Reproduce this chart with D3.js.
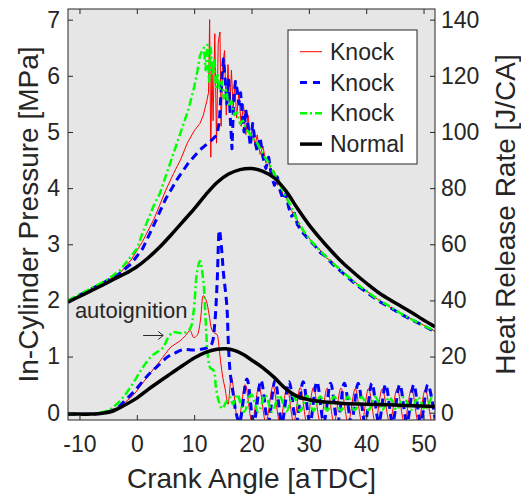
<!DOCTYPE html>
<html>
<head>
<meta charset="utf-8">
<script src="https://cdn.jsdelivr.net/npm/d3@7"></script>
<style>
	body { margin: 0; background: #fff; }
	text { font-family: "Liberation Sans", Arial, sans-serif; fill: #262626; }
	.axis line { stroke: #262626; }
	.axis path { display: none; }
</style>
</head>
<body>
<div id="chart"></div>
<script>
	'use strict';

	// crank angle ticks and axis ticks
	var angleTicks = [-10, 0, 10, 20, 30, 40, 50];
	var pressureTicks = [0, 1, 2, 3, 4, 5, 6, 7];
	var hrrTicks = [0, 20, 40, 60, 80, 100, 120, 140];
	var legendNames = ["Knock", "Knock", "Knock", "Normal"];

	// cylinder pressure [CA, MPa]
	var normalP = [[-12,1.97],[-10,2.07],[-8,2.17],[-6,2.27],[-4,2.38],[-2,2.48],[0,2.6],[2,2.76],[4,2.95],[6,3.17],[8,3.4],[10,3.63],[12,3.88],[14,4.1],[16,4.25],[18,4.33],[20,4.35],[22,4.3],[24,4.18],[26,3.95],[28,3.64],[30,3.35],[32,3.1],[34,2.87],[36,2.66],[38,2.48],[40,2.31],[42,2.15],[44,2.02],[46,1.9],[48,1.78],[50,1.65],[52,1.53]];

	var redP = [[-12,1.99],[-8,2.2],[-5,2.36],[-3,2.48],[-1,2.72],[1,3.05],[3,3.45],[5,3.95],[6.4,4.26],[7.6,4.5],[8.8,4.8],[10,5.02],[11,5.15],[11.6,5.3],[12.2,5.55],[12.5,5.7],[12.7,7.0],[12.9,4.55],[13.1,6.2],[13.3,5.2],[13.6,6.75],[13.9,4.8],[14.2,6.6],[14.5,6.78],[14.7,5.1],[15.0,6.2],[15.3,6.45],[15.6,5.3],[15.9,6.2],[16.2,5.4],[16.5,6.1],[16.8,5.4],[17.1,5.85],[17.4,5.25],[17.8,5.7],[18.2,5.1],[18.6,5.5],[19.0,4.95],[19.4,5.3],[19.8,4.85],[20.2,5.1],[20.6,4.75],[21.0,4.95],[21.5,4.6],[22,4.75],[22.5,4.45],[23,4.5],[23.5,4.25],[24,4.3],[24.5,4.05],[25,4.1],[25.5,3.85],[26,3.85],[26.5,3.7],[27,3.6],[27.5,3.5],[28,3.42],[29,3.22],[30,3.12],[31,2.97],[32,2.9],[33,2.76],[34,2.7],[36,2.5],[38,2.33],[40,2.17],[42,2.02],[44,1.89],[46,1.77],[48,1.66],[50,1.56],[52,1.45]];

	var blueP = [[-12,1.99],[-8,2.2],[-5,2.36],[-3,2.48],[-1,2.65],[1,2.92],[3,3.35],[5,3.8],[7,4.15],[9,4.45],[11,4.68],[13,4.85],[14.0,4.95],[14.4,5.2],[14.8,5.9],[15.1,6.3],[15.4,5.95],[15.7,5.5],[16.0,5.95],[16.3,5.25],[16.6,4.7],[16.9,5.6],[17.2,5.9],[17.5,5.75],[17.8,5.5],[18.1,5.7],[18.4,5.3],[18.7,5.0],[19.0,5.4],[19.4,5.1],[19.8,4.75],[20.2,5.15],[20.6,4.85],[21.0,4.65],[21.5,4.9],[22,4.55],[22.5,4.35],[23,4.55],[23.5,4.2],[24,4.05],[24.5,4.2],[25,3.95],[25.5,3.8],[26,3.9],[26.5,3.65],[27,3.5],[27.5,3.55],[28,3.35],[29,3.2],[30,3.08],[31,2.98],[32,2.85],[33,2.78],[34,2.66],[36,2.48],[38,2.3],[40,2.15],[42,2.0],[44,1.88],[46,1.76],[48,1.65],[50,1.55],[52,1.44]];

	var greenP = [[-12,2.0],[-8,2.21],[-5,2.38],[-3,2.53],[-1.5,2.72],[0,2.92],[1,3.2],[2,3.45],[3,3.7],[4,3.9],[5,4.2],[6,4.5],[7,4.8],[8,5.1],[9,5.4],[10,5.8],[10.6,6.1],[11,6.35],[11.4,6.45],[11.7,6.5],[12.0,6.1],[12.3,6.55],[12.6,5.9],[12.9,6.5],[13.2,6.0],[13.5,6.3],[13.8,5.8],[14.1,6.05],[14.4,5.75],[14.8,5.9],[15.2,5.6],[15.6,5.75],[16.0,5.45],[16.5,5.55],[17,5.3],[17.5,5.35],[18,5.15],[18.5,5.2],[19,5.05],[19.5,5.0],[20,4.92],[20.5,4.85],[21,4.8],[22,4.6],[23,4.45],[24,4.25],[25,4.05],[26,3.85],[27,3.65],[28,3.42],[29,3.25],[30,3.1],[32,2.88],[34,2.68],[36,2.5],[38,2.32],[40,2.17],[42,2.02],[44,1.9],[46,1.77],[48,1.66],[50,1.55],[52,1.46]];

	// heat release rate [CA, J/CA]
	var normalH = [[-12,-0.5],[-10,-0.5],[-8,-0.5],[-6,-0.2],[-4,0.7],[-2,2.8],[0,5.2],[2,8.3],[4,11.2],[6,14],[8,16.8],[10,19.5],[12,21.5],[14,22.6],[15.5,22.8],[17,22.2],[18.5,20.8],[20,18.8],[22,16],[24,12.5],[26,8.5],[28,5.8],[30,4.6],[32,4.0],[34,3.6],[36,3.3],[40,3.0],[44,2.8],[48,2.5],[52,2.2]];

	var redH = [[-12,-0.5],[-9,-0.5],[-6.5,-0.2],[-5,0.5],[-3.5,1.8],[-2,3.8],[-0.5,6.5],[1,10.5],[2.5,14.5],[4,18.3],[5,21],[6,23.5],[7.5,25.5],[8.5,27.5],[9.3,29.3],[9.9,26.8],[10.5,27.5],[11.1,33],[11.6,41.7],[12.1,40],[12.6,35],[13.1,29.5],[13.6,28.3],[14.0,27.8],[14.3,24],[14.6,18.5],[15.0,12.5],[15.4,8.5],[15.9,3],[16.5,12.5],[17.7,-3.5],[18.9,10],[20.1,-3.5],[21.3,9.5],[22.5,-3.5],[23.75,9.5],[24.95,-3.5],[26.2,9],[27.35,-3.5],[28.5,9],[29.65,-3.5],[30.8,9],[32.0,-3.5],[33.2,8.8],[34.4,-3.5],[35.6,8.8],[36.85,-3.5],[38.1,8.6],[39.25,-3.5],[40.4,8.6],[41.6,-3.5],[42.8,8.5],[44.1,-3.5],[45.4,8.5],[46.65,-3.5],[47.9,8.5],[49.1,-3.5],[50.3,8.3],[51.5,-3.5],[52,-1]];

	var blueH = [[-12,-0.5],[-9,-0.5],[-6.5,-0.3],[-5,0.3],[-3.5,1.5],[-2,4.5],[-0.5,7.5],[1.1,11.4],[2.5,14.5],[4.1,17.5],[5.3,19.8],[6.4,21],[8.1,22.5],[10,22.3],[11.6,22.8],[12.5,23.3],[13.1,24.6],[13.6,32],[14.0,46],[14.4,65],[14.8,58],[15.1,50],[15.7,38],[16.0,23],[16.3,14],[16.8,6.8],[17.3,0],[17.9,-3.5],[19.2,12],[20.4,-3.5],[21.65,11.5],[22.9,-3.5],[24.1,11.5],[25.3,-3.5],[26.55,11],[27.8,-3.5],[29.0,11],[30.2,-3.5],[31.4,11],[32.6,-3.5],[33.8,10.5],[35.0,-3.5],[36.2,10.5],[37.4,-3.5],[38.6,10.5],[39.8,-3.5],[41.0,10.5],[42.2,-3.5],[43.4,10],[44.6,-3.5],[45.85,10],[47.1,-3.5],[48.3,10],[49.5,-3.5],[50.75,10],[52,-2]];

	var greenH = [[-12,-0.5],[-9,-0.5],[-6.5,0],[-5,0.8],[-3.5,3],[-2,6.5],[-0.5,11],[1,16],[2.5,20],[3.5,21.5],[4.6,23.3],[5.4,26.5],[6.2,28.5],[7,28.6],[8.1,28.3],[9.3,30],[9.9,36],[10.5,50],[11,54],[11.6,47],[12.0,33],[12.4,20],[12.8,16],[13.4,15],[13.8,9],[14.3,4],[14.9,1.5],[15.5,3.5],[16.2,5.5],[16.8,3],[17.5,6.5],[18.7,0.3],[19.95,6.5],[21.2,0.3],[22.4,6.3],[23.6,0.4],[24.85,6.2],[26.1,0.5],[27.3,6],[28.5,0.6],[29.65,6],[30.8,0.7],[32.0,5.8],[33.2,0.8],[34.4,5.8],[35.6,0.8],[36.8,5.7],[38.0,0.9],[39.25,5.6],[40.4,0.9],[41.6,5.6],[42.8,1],[44.05,5.5],[45.3,1],[46.6,5.5],[47.8,1],[49.05,5.5],[50.3,1],[51.5,5.4],[52,4.5]];

	var options = {
		width: 521,
		height: 495,
		plot: { left: 68, right: 435, top: 9, bottom: 420 },
		colors: ["#ff0000", "#0000ff", "#00ff00", "#000000"]
	};
	var p = options.plot;

	var svg = d3.select("#chart").append("svg")
		.attr("width", options.width)
		.attr("height", options.height);

	var x = d3.scaleLinear().domain([-12, 52]).range([p.left, p.right]);
	var yL = d3.scaleLinear().domain([-0.13, 7.19]).range([p.bottom, p.top]);
	var yR = d3.scaleLinear().domain([-2.6, 143.8]).range([p.bottom, p.top]);

	// plain hyphen for negatives, like the original
	var fmt = function (d) { return String(d); };

	// plot background
	svg.append("rect")
		.attr("x", p.left).attr("y", p.top)
		.attr("width", p.right - p.left).attr("height", p.bottom - p.top)
		.attr("fill", "#e6e6e6");

	svg.append("clipPath").attr("id", "clip")
		.append("rect")
		.attr("x", p.left).attr("y", p.top)
		.attr("width", p.right - p.left).attr("height", p.bottom - p.top);

	var plot = svg.append("g").attr("clip-path", "url(#clip)");

	// series styles: red thin, blue dashed, green dash-dot, black thick
	var styles = [
		{ width: 1, dash: null },
		{ width: 3, dash: "8,5" },
		{ width: 2.5, dash: "8,3,2,3" },
		{ width: 3.5, dash: null }
	];

	function drawLine(data, yScale, i, curve) {
		var line = d3.line()
			.x(function (d) { return x(d[0]); })
			.y(function (d) { return yScale(d[1]); })
			.curve(curve);
		plot.append("path")
			.datum(data)
			.attr("d", line)
			.attr("fill", "none")
			.attr("stroke", options.colors[i])
			.attr("stroke-width", styles[i].width)
			.attr("stroke-dasharray", styles[i].dash)
			.attr("stroke-linejoin", "round");
	}

	// pressure traces (left axis)
	drawLine(redP, yL, 0, d3.curveLinear);
	drawLine(blueP, yL, 1, d3.curveLinear);
	drawLine(greenP, yL, 2, d3.curveLinear);
	drawLine(normalP, yL, 3, d3.curveCatmullRom);

	// heat release traces (right axis)
	drawLine(redH, yR, 0, d3.curveCatmullRom);
	drawLine(blueH, yR, 1, d3.curveCatmullRom);
	drawLine(greenH, yR, 2, d3.curveCatmullRom);
	drawLine(normalH, yR, 3, d3.curveCatmullRom);

	// axes with inward ticks
	svg.append("g").attr("class", "axis")
		.attr("transform", "translate(0," + p.bottom + ")")
		.call(d3.axisBottom(x).tickValues(angleTicks).tickFormat(fmt).tickSizeInner(-5).tickSizeOuter(0).tickPadding(16));

	svg.append("g").attr("class", "axis")
		.attr("transform", "translate(0," + p.top + ")")
		.call(d3.axisTop(x).tickValues(angleTicks).tickSizeInner(-5).tickSizeOuter(0).tickFormat(""));

	svg.append("g").attr("class", "axis")
		.attr("transform", "translate(" + p.left + ",0)")
		.call(d3.axisLeft(yL).tickValues(pressureTicks).tickFormat(fmt).tickSizeInner(-5).tickSizeOuter(0).tickPadding(8));

	svg.append("g").attr("class", "axis")
		.attr("transform", "translate(" + p.right + ",0)")
		.call(d3.axisRight(yR).tickValues(hrrTicks).tickFormat(fmt).tickSizeInner(-5).tickSizeOuter(0).tickPadding(6));

	// d3 sets its own font on axis groups, override afterwards
	svg.selectAll(".axis")
		.attr("font-family", null)
		.attr("font-size", "23px");
	svg.selectAll(".axis text").style("fill", "#262626");

	// frame
	svg.append("rect")
		.attr("x", p.left).attr("y", p.top)
		.attr("width", p.right - p.left).attr("height", p.bottom - p.top)
		.attr("fill", "none")
		.attr("stroke", "#262626")
		.attr("stroke-width", 1);

	// axis titles
	svg.append("text")
		.attr("x", (p.left + p.right) / 2).attr("y", 488)
		.attr("text-anchor", "middle")
		.attr("font-size", "28px")
		.text("Crank Angle [aTDC]");

	svg.append("text")
		.attr("transform", "translate(38," + ((p.top + p.bottom) / 2) + ") rotate(-90)")
		.attr("text-anchor", "middle")
		.attr("font-size", "28px")
		.text("In-Cylinder Pressure [MPa]");

	svg.append("text")
		.attr("transform", "translate(515," + ((p.top + p.bottom) / 2) + ") rotate(-90)")
		.attr("text-anchor", "middle")
		.attr("font-size", "28px")
		.text("Heat Release Rate [J/CA]");

	// autoignition annotation
	svg.append("text")
		.attr("x", x(-10.8)).attr("y", yR(33.7))
		.attr("font-size", "22px")
		.text("autoignition");

	var ax0 = x(1.1), ax1 = x(4.6), ay = yR(27.5);
	svg.append("path")
		.attr("d", "M" + ax0 + "," + ay + "H" + ax1 + "M" + (ax1 - 5) + "," + (ay - 4) + "L" + ax1 + "," + ay + "L" + (ax1 - 5) + "," + (ay + 4))
		.attr("fill", "none")
		.attr("stroke", "#262626")
		.attr("stroke-width", 1);

	// legend
	var legend = svg.append("g").attr("transform", "translate(288,30)");
	legend.append("rect")
		.attr("width", 129).attr("height", 134)
		.attr("fill", "#fff")
		.attr("stroke", "#262626")
		.attr("stroke-width", 1);

	legendNames.forEach(function (name, i) {
		var ly = 21.7 + i * 30.8;
		legend.append("line")
			.attr("x1", 12).attr("x2", 34)
			.attr("y1", ly).attr("y2", ly)
			.attr("stroke", options.colors[i])
			.attr("stroke-width", styles[i].width)
			.attr("stroke-dasharray", i === 1 ? "7,6" : (i === 2 ? "7,3,2,3" : null));
		legend.append("text")
			.attr("x", 42).attr("y", ly + 8)
			.attr("font-size", "23px")
			.text(name);
	});
</script>
</body>
</html>
